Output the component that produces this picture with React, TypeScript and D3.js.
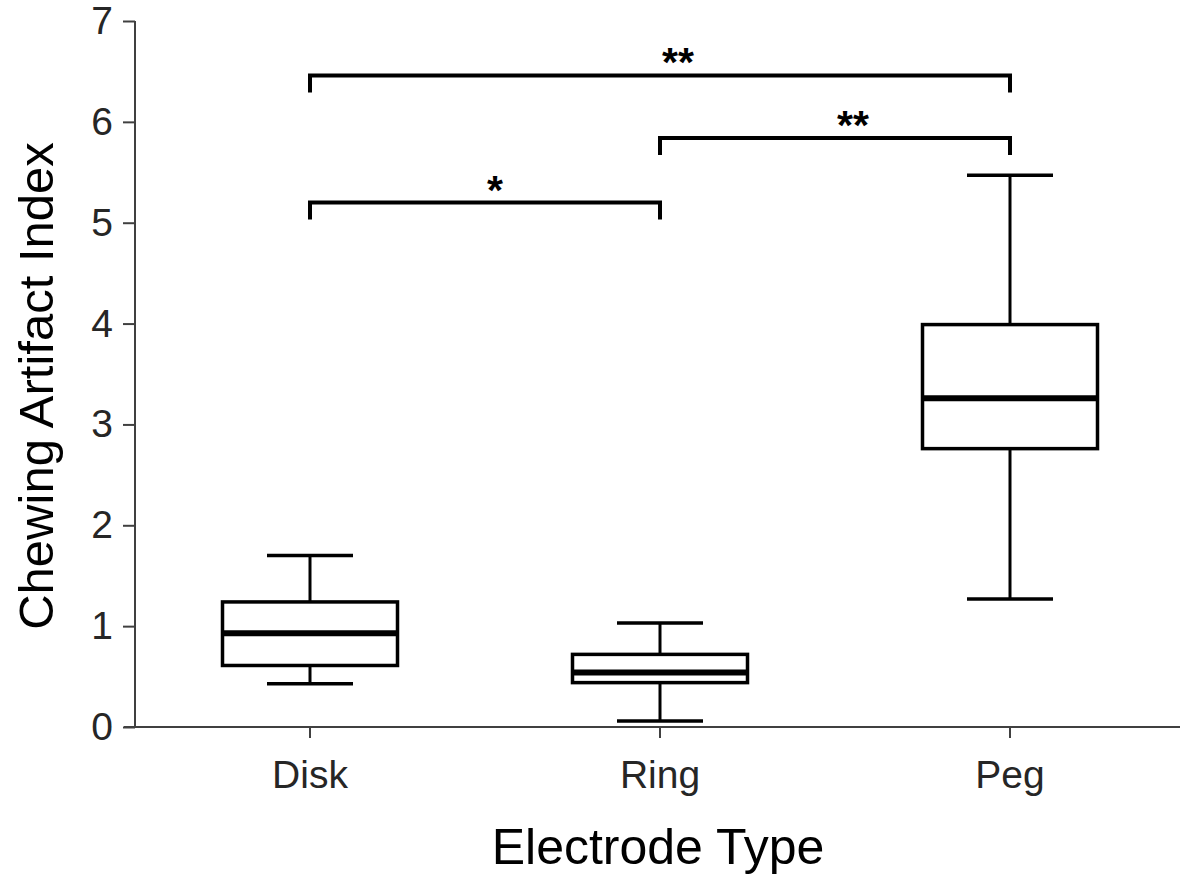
import { useRef, useEffect } from "react";
import * as d3 from "d3";

// electrode types
const categories = ["Disk", "Ring", "Peg"];

// box stats
const whiskerLow = [0.43, 0.06, 1.27];
const q1 = [0.61, 0.44, 2.76];
const median = [0.93, 0.54, 3.26];
const q3 = [1.24, 0.72, 3.99];
const whiskerHigh = [1.7, 1.03, 5.47];

const yTicks = [0, 1, 2, 3, 4, 5, 6, 7];

// significance brackets
const brackets = [
  { from: "Disk", to: "Ring", level: 5.2, label: "*" },
  { from: "Ring", to: "Peg", level: 5.84, label: "**" },
  { from: "Disk", to: "Peg", level: 6.46, label: "**" },
];

const W = 1180;
const H = 878;

const App = () => {
  const svgRef = useRef<SVGSVGElement>(null);

  useEffect(() => {
    const svg = d3.select(svgRef.current);
    svg.selectAll("*").remove();

    const font = "'Liberation Sans', Arial, Helvetica, sans-serif";
    const axisColor = "#404040";

    const x = d3.scaleBand().domain(categories).range([135, 1185]).padding(0);
    const y = d3.scaleLinear().domain([0, 7]).range([727, 21]);
    const cx = (c) => x(c) + x.bandwidth() / 2;

    const boxW = 175;
    const capW = 86;

    // boxes
    const g = svg.append("g");
    categories.forEach((c, i) => {
      const xc = cx(c);
      const bg = g.append("g");
      // whiskers
      bg.append("line")
        .attr("x1", xc).attr("x2", xc)
        .attr("y1", y(whiskerHigh[i])).attr("y2", y(q3[i]))
        .attr("stroke", "#000").attr("stroke-width", 3);
      bg.append("line")
        .attr("x1", xc).attr("x2", xc)
        .attr("y1", y(q1[i])).attr("y2", y(whiskerLow[i]))
        .attr("stroke", "#000").attr("stroke-width", 3);
      // caps
      [whiskerHigh[i], whiskerLow[i]].forEach((v) => {
        bg.append("line")
          .attr("x1", xc - capW / 2).attr("x2", xc + capW / 2)
          .attr("y1", y(v)).attr("y2", y(v))
          .attr("stroke", "#000").attr("stroke-width", 3.5);
      });
      // box
      bg.append("rect")
        .attr("x", xc - boxW / 2)
        .attr("y", y(q3[i]))
        .attr("width", boxW)
        .attr("height", y(q1[i]) - y(q3[i]))
        .attr("fill", "#fff")
        .attr("stroke", "#000")
        .attr("stroke-width", 3.5);
      // median
      bg.append("line")
        .attr("x1", xc - boxW / 2).attr("x2", xc + boxW / 2)
        .attr("y1", y(median[i])).attr("y2", y(median[i]))
        .attr("stroke", "#000").attr("stroke-width", 6);
    });

    // brackets
    brackets.forEach((b) => {
      const x1 = cx(b.from);
      const x2 = cx(b.to);
      const yy = y(b.level);
      svg.append("path")
        .attr("d", `M${x1},${yy + 17}V${yy}H${x2}V${yy + 17}`)
        .attr("fill", "none")
        .attr("stroke", "#000")
        .attr("stroke-width", 4);
      svg.append("text")
        .attr("x", (x1 + x2) / 2 + 2)
        .attr("y", yy + 1)
        .attr("font-family", font)
        .attr("font-weight", "bold")
        .attr("font-size", 41)
        .attr("fill", "#000")
        .text(b.label);
    });

    // y axis
    const yAxis = svg.append("g")
      .attr("transform", "translate(135,0)")
      .call(
        d3.axisLeft(y).tickValues(yTicks).tickFormat(d3.format("d"))
          .tickSize(12).tickPadding(10)
      );
    yAxis.select(".domain").attr("stroke", axisColor).attr("stroke-width", 2)
      .attr("d", `M0,${y(7)}V${y(0)}`);
    yAxis.selectAll(".tick line").attr("stroke", axisColor).attr("stroke-width", 2);
    yAxis.selectAll(".tick text")
      .attr("font-family", font).attr("font-size", 39).attr("fill", "#262626");

    // x axis
    const xAxis = svg.append("g")
      .attr("transform", `translate(0,${y(0)})`)
      .call(d3.axisBottom(x).tickSize(11).tickPadding(22));
    xAxis.select(".domain").attr("stroke", axisColor).attr("stroke-width", 2)
      .attr("d", `M124,0H${W}`);
    xAxis.selectAll(".tick line").attr("stroke", axisColor).attr("stroke-width", 2);
    xAxis.selectAll(".tick text")
      .attr("font-family", font).attr("font-size", 39).attr("fill", "#262626");

    // axis titles
    svg.append("text")
      .attr("x", 658)
      .attr("y", 864)
      .attr("text-anchor", "middle")
      .attr("font-family", font)
      .attr("font-size", 50)
      .attr("fill", "#000")
      .text("Electrode Type");

    svg.append("text")
      .attr("transform", "translate(53,386) rotate(-90)")
      .attr("text-anchor", "middle")
      .attr("font-family", font)
      .attr("font-size", 49)
      .attr("fill", "#000")
      .text("Chewing Artifact Index");
  }, []);

  return (
    <svg
      ref={svgRef}
      width={W}
      height={H}
      style={{ position: "absolute", left: 0, top: 0, background: "#fff" }}
    ></svg>
  );
};

export default App;
